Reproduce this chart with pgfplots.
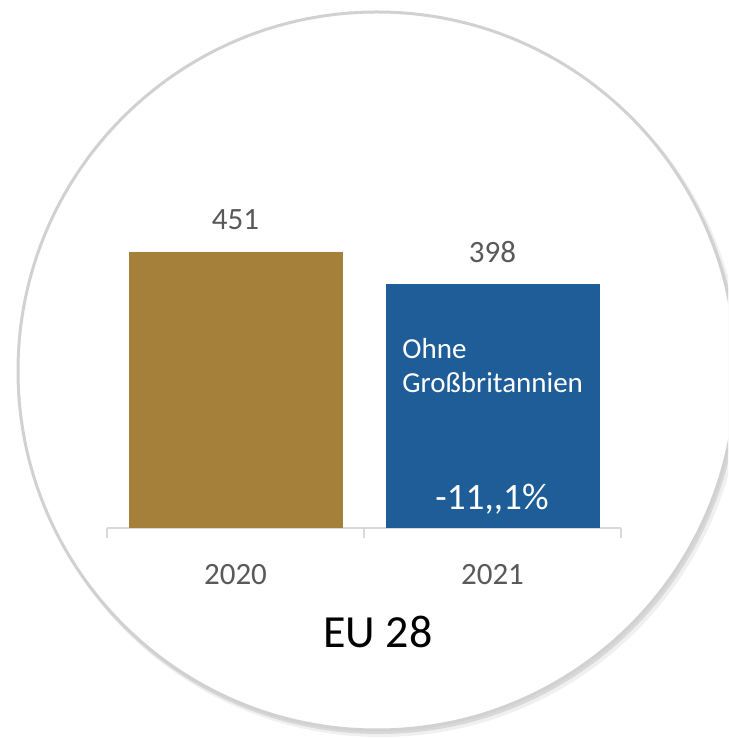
\documentclass[border=0pt]{standalone}
\usepackage{pgfplots}
\pgfplotsset{compat=1.18}
\usepackage{fontspec}
\setmainfont{Carlito}
\definecolor{goldbar}{HTML}{A5803A}
\definecolor{bluebar}{HTML}{1E5D98}
\definecolor{axisgray}{HTML}{D9D9D9}
\definecolor{labelgray}{HTML}{595959}
\begin{document}
\begin{tikzpicture}[x=0.5pt,y=0.5pt]
\useasboundingbox (0,0) rectangle (728,738);
\begin{scope}
  \clip (0,0) rectangle (728,738);
  % soft shadow and circle
  \fill[black, opacity=0.06] (381,362) circle (361);
  \fill[black, opacity=0.10] (379,364) circle (360);
  \fill[white] (377,367) circle (359);
  \draw[black!18, line width=1.5] (377,367) circle (359);
\end{scope}
\begin{axis}[
    at={(117.75pt,105pt)}, anchor=origin,
    scale only axis, width=257pt, height=153pt,
    xmin=-0.5, xmax=1.5, ymin=0, ymax=500,
    axis x line*=bottom, axis y line=none,
    axis line style={axisgray, line width=0.75pt},
    ybar, bar width=107pt, bar shift=0pt,
    clip=false,
    xtick={-0.5,0.5,1.5}, xticklabels={},
    tick align=outside, major tick length=5pt,
    x tick style={axisgray, line width=0.75pt},
    extra x ticks={0,1}, extra x tick labels={2020,2021},
    extra x tick style={major tick length=0pt, tick style={draw=none}},
    xticklabel style={font=\fontsize{15.5}{18}\selectfont, text=labelgray, anchor=base, yshift=-28.5pt},
    ytick=\empty,
    /pgf/number format/assume math mode=true,
    nodes near coords,
    every node near coord/.append style={font=\fontsize{15.5}{18}\selectfont, text=labelgray, anchor=base, yshift=11pt},
  ]
  \addplot[fill=goldbar, draw=none] coordinates {(0,451)};
  \addplot[fill=bluebar, draw=none] coordinates {(1,398)};
\end{axis}
\node[anchor=base west, inner sep=0, text=white, align=left,
      font=\fontsize{14.5}{17}\selectfont] at (402,345) {Ohne\\Großbritannien};
\node[anchor=base, inner sep=0, text=white, font=\fontsize{18.6}{22}\selectfont] at (492,228) {-11,{},1\%};
\node[anchor=base, inner sep=0, text=black, font=\fontsize{23}{28}\selectfont] at (378,90) {EU 28};
\end{tikzpicture}
\end{document}
